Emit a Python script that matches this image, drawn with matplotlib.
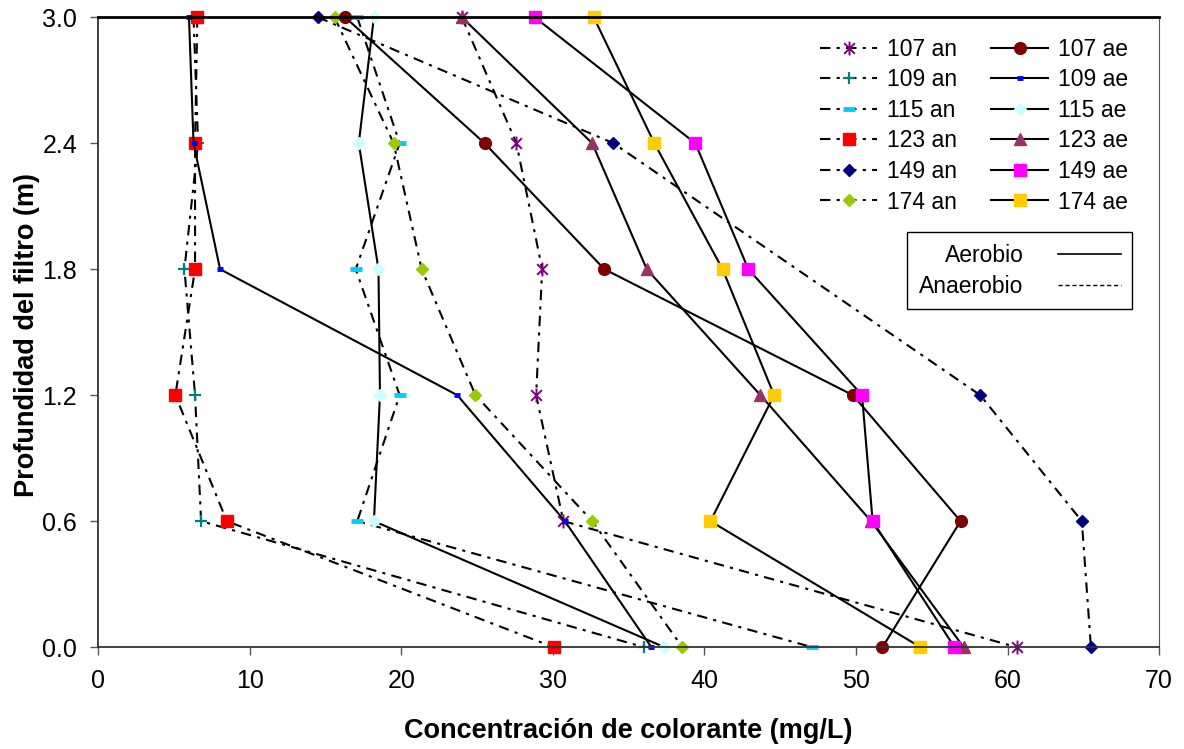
import numpy as np
import matplotlib
matplotlib.use('Agg')
import matplotlib.pyplot as plt
from matplotlib.path import Path
from matplotlib.lines import Line2D

plt.rcParams['font.family'] = ['Liberation Sans', 'DejaVu Sans']

# profundidad (m) de cada punto
depth = [3.0, 2.4, 1.8, 1.2, 0.6, 0.0]

# anaerobio
an_107 = [24.0, 27.6, 29.3, 28.9, 30.7, 60.6]
an_109 = [6.3, 6.6, 5.7, 6.4, 6.8, 36.0]
an_115 = [17.1, 19.9, 17.0, 19.9, 17.1, 47.1]
an_123 = [6.55, 6.4, 6.4, 5.1, 8.5, 30.05]
an_149 = [14.5, 34.0, np.nan, 58.2, 64.9, 65.5]
an_174 = [15.6, 19.5, 21.35, 24.9, 32.6, 38.55]

# aerobio
ae_107 = [16.3, 25.5, 33.4, 49.8, 56.9, 51.75]
ae_109 = [6.0, 6.3, 8.05, 23.7, 30.8, 36.5]
ae_115 = [18.2, 17.2, 18.5, 18.6, 18.2, 37.35]
ae_123 = [24.0, 32.6, 36.2, 43.7, 51.0, 57.1]
ae_149 = [28.8, 39.4, 42.9, 50.4, 51.1, 56.5]
ae_174 = [32.7, 36.7, 41.2, 44.6, 40.4, 54.25]

# marcador asterisco tipo Excel (x + barra vertical)
star = Path([(-1, -1), (1, 1), (-1, 1), (1, -1), (0, -1.3), (0, 1.3)],
            [Path.MOVETO, Path.LINETO, Path.MOVETO, Path.LINETO, Path.MOVETO, Path.LINETO])

dashdot = (5, 3, 1.5, 3)

fig = plt.figure(figsize=(11.84, 7.49), dpi=100)
ax = fig.add_axes([0.0828, 0.136, 0.8962, 0.841])


def plot_series(x, label, ls, **kw):
    x = np.array(x, dtype=float)
    y = np.array(depth)
    m = ~np.isnan(x)
    line, = ax.plot(x[m], y[m], color='black', lw=1.5, label=label, clip_on=False, **kw)
    if ls == 'an':
        line.set_dashes(dashdot)
    return line


h = []
h.append(plot_series(an_107, '107 an', 'an', marker=star, ms=10, mec='#800080', mew=1.4))
h.append(plot_series(an_109, '109 an', 'an', marker='+', ms=9, mec='#008080', mew=1.6))
h.append(plot_series(an_115, '115 an', 'an', marker='_', ms=9, mec='#00CCFF', mew=3.5))
h.append(plot_series(an_123, '123 an', 'an', marker='s', ms=8.5, mfc='#FF0000', mec='#FF0000'))
h.append(plot_series(an_149, '149 an', 'an', marker='D', ms=6.5, mfc='#000080', mec='#000080'))
h.append(plot_series(an_174, '174 an', 'an', marker='D', ms=6.5, mfc='#99CC00', mec='#99CC00'))
h.append(plot_series(ae_107, '107 ae', 'ae', marker='o', ms=8.5, mfc='#800000', mec='#800000'))
h.append(plot_series(ae_109, '109 ae', 'ae', marker='_', ms=5, mec='#0000FF', mew=3.5))
h.append(plot_series(ae_115, '115 ae', 'ae', marker='D', ms=6.5, mfc='#CCFFFF', mec='#CCFFFF'))
h.append(plot_series(ae_123, '123 ae', 'ae', marker='^', ms=9, mfc='#993366', mec='#993366'))
h.append(plot_series(ae_149, '149 ae', 'ae', marker='s', ms=8.5, mfc='#FF00FF', mec='#FF00FF'))
h.append(plot_series(ae_174, '174 ae', 'ae', marker='s', ms=8.5, mfc='#FFCC00', mec='#FFCC00'))

ax.set_xlim(0, 70)
ax.set_ylim(0, 3.0)
ax.set_xticks(np.arange(0, 71, 10))
ax.set_yticks([0.0, 0.6, 1.2, 1.8, 2.4, 3.0])
ax.set_yticklabels(['%.1f' % v for v in [0.0, 0.6, 1.2, 1.8, 2.4, 3.0]])
ax.tick_params(labelsize=18, length=6, width=1, color='#555555')
ax.tick_params(axis='x', pad=10)
ax.tick_params(axis='y', pad=9)
for s in ['left', 'bottom']:
    ax.spines[s].set_color('#333333')
    ax.spines[s].set_linewidth(1.3)
ax.spines['top'].set_linewidth(2.0)
ax.spines['right'].set_color('#555555')

ax.set_xlabel('Concentración de colorante (mg/L)', fontsize=19.5, fontweight='bold')
ax.set_ylabel('Profundidad del filtro (m)', fontsize=19.5, fontweight='bold')
ax.xaxis.set_label_coords(0.5, -0.113)
ax.yaxis.set_label_coords(-0.055, 0.495)

leg1 = ax.legend(handles=h, ncol=2, frameon=False, fontsize=16.5, loc='upper left',
                 bbox_to_anchor=(0.6805, 0.9675), borderaxespad=0, borderpad=0,
                 handlelength=2.5, columnspacing=1.5, labelspacing=0.33, handletextpad=0.4)
ax.add_artist(leg1)

ae_line = Line2D([], [], color='black', lw=1.2)
an_line = Line2D([], [], color='black', lw=1.0, dashes=(3, 2))
leg2 = ax.legend([ae_line, an_line], ['Aerobio', 'Anaerobio'], markerfirst=False,
                 fontsize=16.5, loc='upper right', bbox_to_anchor=(0.9746, 0.6587),
                 borderaxespad=0, fancybox=False, edgecolor='black', framealpha=1,
                 handlelength=2.75, labelspacing=0.35, borderpad=0.5, handletextpad=1.5)
leg2.get_frame().set_linewidth(1.0)

fig.savefig('out.png', dpi=100)
